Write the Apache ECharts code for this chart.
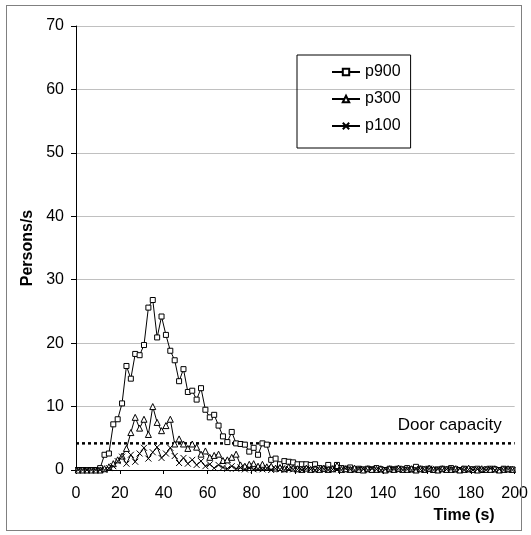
<!DOCTYPE html>
<html>
<head>
<meta charset="utf-8">
<script src="https://cdn.jsdelivr.net/npm/echarts@6/dist/echarts.min.js"></script>
<style>
  html, body { margin: 0; padding: 0; background: #fff; }
  #chart { position: absolute; left: 0; top: 0; width: 531px; height: 535px; }
  #frame { position: absolute; left: 6px; top: 5px; width: 514px; height: 524px;
           border: 1px solid #808080; pointer-events: none; }
</style>
</head>
<body>
<div id="chart"></div>
<div id="frame"></div>
<script>
// ── Data ─────────────────────────────────────────────────────────────────────
// samples every 2 s, first at t = 1 s
const T_START = 1;
const T_STEP = 2;

const p900 = [
  0, 0, 0, 0, 0, 0.3, 2.4, 2.6, 7.2, 8.0,
  10.5, 16.4, 14.4, 18.3, 18.1, 19.7, 25.6, 26.8, 20.9, 24.2,
  21.3, 18.8, 17.3, 14.0, 15.9, 12.3, 12.5, 11.1, 12.9, 9.5,
  8.3, 8.7, 7.0, 5.3, 4.4, 6.0, 4.2, 4.1, 4.0, 2.9,
  3.5, 2.4, 4.2, 4.0, 1.6, 1.8, 0.9, 1.4, 1.3, 1.2,
  0.9, 0.9, 0.9, 0.8, 0.9, 0.3, 0.2, 0.8, 0.2, 0.8,
  0.3, 0.2, 0.4, 0.1, 0.2, 0.1, 0.2, 0.1, 0.3, 0.1,
  0, 0.2, 0.1, 0.2, 0.1, 0.3, 0.1, 0.5, 0.2, 0.1,
  0.2, 0, 0.1, 0.2, 0.1, 0.3, 0.1, 0, 0.2, 0.1,
  0.1, 0.2, 0, 0.1, 0.2, 0.1, 0, 0.2, 0.1, 0.1,
];

const p300 = [
  0, 0, 0, 0, 0, 0, 0.2, 0.5, 1.0, 1.6,
  2.2, 3.4, 5.9, 8.3, 6.6, 8.0, 5.6, 10.0, 7.5, 6.2,
  7.0, 8.0, 4.1, 4.9, 4.1, 3.4, 4.1, 3.6, 2.5, 3.0,
  2.0, 2.3, 2.5, 1.5, 1.6, 2.0, 2.5, 0.8, 0.6, 0.9,
  1.0, 0.6, 0.9, 0.5, 0.6, 0.3, 0.4, 0.2, 0.5, 0.3,
  0.2, 0.1, 0.3, 0.1, 0.2, 0.1, 0.3, 0.1, 0.2, 0.7,
  0.1, 0.2, 0.1, 0.3, 0.1, 0, 0.2, 0.1, 0.1, 0.2,
  0, 0.2, 0.1, 0.3, 0.1, 0.1, 0.2, 0, 0.2, 0.1,
  0.3, 0.1, 0, 0.2, 0.1, 0.1, 0.2, 0, 0.1, 0.3,
  0.1, 0, 0.2, 0.1, 0.1, 0.2, 0, 0.1, 0.2, 0.1,
];

const p100 = [
  0, 0, 0, 0, 0, 0, 0, 0.3, 0.6, 1.4,
  2.1, 1.0, 2.4, 1.3, 2.6, 3.5, 1.8, 2.8, 3.6, 1.9,
  2.6, 3.5, 2.2, 1.1, 1.9, 1.0, 1.6, 0.8, 1.4, 0.6,
  0.9, 0.3, 0.8, 0.4, 0.2, 0.6, 0.2, 0.4, 0.1, 0.3,
  0.1, 0.2, 0.1, 0.3, 0, 0.2, 0.1, 0, 0.2, 0.1,
  0.1, 0, 0.2, 0.1, 0, 0.1, 0.2, 0, 0.1, 0.1,
  0, 0.2, 0.1, 0, 0.1, 0.1, 0, 0.2, 0.1, 0,
  0.1, 0, 0.1, 0.2, 0, 0.1, 0, 0.1, 0.1, 0,
  0.2, 0, 0.1, 0, 0.1, 0.1, 0, 0.2, 0, 0.1,
  0, 0.1, 0.1, 0, 0.2, 0, 0.1, 0, 0.1, 0,
];

const doorCapacity = 4.2;
const doorSpan = [0, 200];

// ── Helpers ──────────────────────────────────────────────────────────────────

const FONT = '"Liberation Sans", Arial, sans-serif';
const CROSS = 'path://M0,0L10,10M10,0L0,10';

function pairs(vals) {
  return vals.map((v, i) => [T_START + i * T_STEP, v]);
}

function lineSeries(name, vals, symbol, size) {
  return {
    name, type: 'line', data: pairs(vals),
    symbol, symbolSize: size, showAllSymbol: true,
    lineStyle: { color: '#000', width: 1 },
    itemStyle: { color: symbol === CROSS ? '#000' : '#fff', borderColor: '#000', borderWidth: 1 },
    emphasis: { disabled: true },
    z: 3,
  };
}

// ── Chart ────────────────────────────────────────────────────────────────────

const chart = echarts.init(document.getElementById('chart'), null, { renderer: 'canvas' });

chart.setOption({
  animation: false,
  backgroundColor: '#fff',
  textStyle: { fontFamily: FONT, color: '#000' },
  grid: { left: 76, right: 11, top: 26, bottom: 65 },
  legend: {
    data: ['p900', 'p300', 'p100'],
    orient: 'vertical',
    left: 297, top: 55,
    padding: [9, 10, 14, 34],
    itemWidth: 28, itemHeight: 8, itemGap: 11,
    borderColor: '#000', borderWidth: 1, borderRadius: 0,
    textStyle: { fontFamily: FONT, fontSize: 16, color: '#000' },
  },
  xAxis: {
    type: 'value', min: 0, max: 200, interval: 20,
    name: 'Time (s)', nameLocation: 'end', nameGap: -20,
    nameTextStyle: { fontFamily: FONT, fontSize: 16, fontWeight: 'bold', color: '#000',
      align: 'right', verticalAlign: 'top', padding: [38, 0, 0, 0] },
    axisLine: { onZero: false, lineStyle: { color: '#000', width: 1 } },
    axisTick: { show: true, length: 4, lineStyle: { color: '#000' } },
    axisLabel: { fontFamily: FONT, fontSize: 16, color: '#000', margin: 16 },
    splitLine: { show: false },
  },
  yAxis: {
    type: 'value', min: 0, max: 70, interval: 10,
    name: 'Persons/s', nameLocation: 'middle', nameGap: 40,
    nameTextStyle: { fontFamily: FONT, fontSize: 16, fontWeight: 'bold', color: '#000' },
    axisLine: { show: true, lineStyle: { color: '#000', width: 1 } },
    axisTick: { show: true, length: 5, lineStyle: { color: '#000' } },
    axisLabel: { fontFamily: FONT, fontSize: 16, color: '#000', margin: 12 },
    splitLine: { show: true, lineStyle: { color: '#c0c0c0', width: 1 } },
  },
  series: [
    lineSeries('p900', p900, 'rect', 5),
    lineSeries('p300', p300, 'triangle', 6),
    lineSeries('p100', p100, CROSS, 6),
    {
      name: 'Door capacity', type: 'line',
      data: [
        [doorSpan[0], doorCapacity],
        { value: [doorSpan[1], doorCapacity],
          label: { show: true, formatter: 'Door capacity', position: 'top', align: 'right',
            offset: [-13, -4], fontFamily: FONT, fontSize: 17, color: '#000' } },
      ],
      symbol: 'circle', symbolSize: 1,
      itemStyle: { color: 'rgba(0,0,0,0)' },
      lineStyle: { color: '#000', width: 2.5, type: [3, 3] },
      emphasis: { disabled: true },
      z: 2,
    },
  ],
});
</script>
</body>
</html>
